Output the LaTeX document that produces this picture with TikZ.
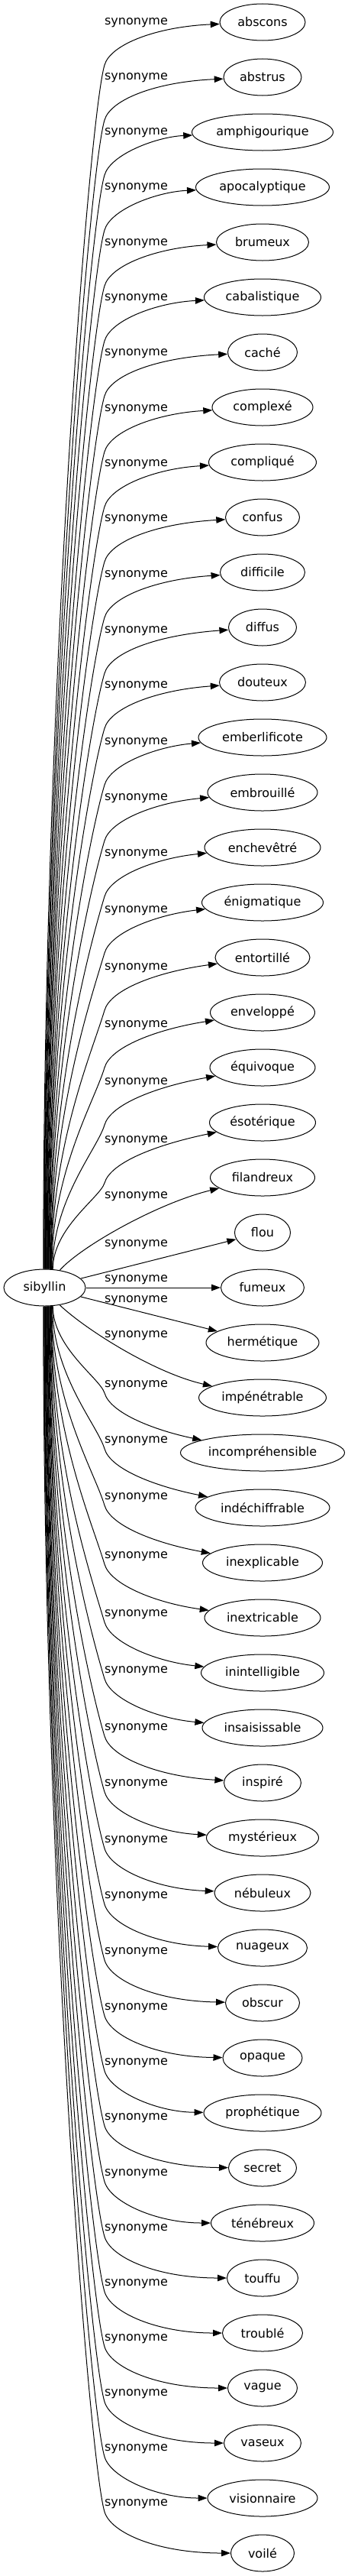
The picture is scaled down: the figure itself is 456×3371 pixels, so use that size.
\documentclass[tikz,border=0pt]{standalone}
\usepackage{fontspec}
\setmainfont{DejaVu Sans}
\usetikzlibrary{arrows.meta,shapes.geometric}
\begin{document}
\begin{tikzpicture}[x=1bp,y=1bp,
  every node/.style={font=\fontsize{16.06}{19}\selectfont},
  word/.style={draw, ellipse, inner sep=0pt, minimum height=48bp, line width=1bp},
  lbl/.style={inner sep=0pt, anchor=center},
  edge/.style={line width=1bp, -{Triangle[length=12bp,width=8.5bp]}}]
\useasboundingbox (0,0) rectangle (456,-3371);
\node[word, minimum width=107bp] (sib) at (58.5,-1685) {sibyllin};
% target nodes and labels: index / width / label offset / text
\foreach \i/\w/\dl/\t in {
 0/112/1/abscons, 1/102/1/abstrus, 2/185/1/amphigourique, 3/175/1/apocalyptique,
 4/121/2/brumeux, 5/153/2/cabalistique, 6/91/2/caché, 7/132/3/complexé,
 8/141/3/compliqué, 9/97/3/confus, 10/111/4/difficile, 11/89/5/diffus,
 12/113/5/douteux, 13/168/7/emberlificote, 14/144/8/embrouillé, 15/152/9/enchevêtré,
 16/159/11/énigmatique, 17/124/14/entortillé, 18/137/17/enveloppé, 19/138/20/équivoque,
 20/139/24/ésotérique, 21/137/25/filandreux, 22/73/16/flou, 23/109/-10/fumeux,
 24/148/-55/hermétique, 25/167/-81/impénétrable, 26/215/-88/incompréhensible,
 27/176/-87/indéchiffrable, 28/157/-85/inexplicable, 29/152/-80/inextricable,
 30/161/-76/inintelligible, 31/158/-74/insaisissable, 32/101/-71/inspiré,
 33/147/-70/mystérieux, 34/126/-68/nébuleux, 35/117/-67/nuageux, 36/97/-66/obscur,
 37/104/-65/opaque, 38/154/-65/prophétique, 39/89/-65/secret, 40/135/-64/ténébreux,
 41/93/-64/touffu, 42/105/-64/troublé, 43/91/-64/vague, 44/101/-64/vaseux,
 45/144/-64/visionnaire, 46/83/-64/voilé} {
  \pgfmathsetmacro\ty{29+72*\i}
  \pgfmathsetmacro\ly{\ty+\dl}
  \node[word, minimum width=\w bp] (n\i) at (344,-\ty) {\t};
  \node[lbl] (l\i) at (178.5,-\ly) {synonyme};
}
% upper edges
\foreach \i/\dl in {0/1,1/1,2/1,3/1,4/2,5/2,6/2,7/3,8/3,9/3,10/4,11/5,12/5,13/7,14/8,15/9,16/11,17/14,18/17,19/20,20/24} {
  \pgfmathsetmacro\ty{29+72*\i}
  \pgfmathsetmacro\vy{\ty+\dl+55}
  \pgfmathsetmacro\dx{57+0.6*\i-58.5}
  \pgfmathtruncatemacro\ang{round(atan2(24*sqrt(1-(\dx/53.5)^2),\dx))}
  \pgfmathsetmacro\len{1661-\vy}
  \pgfmathsetmacro\f{min(1,\len/400)}
  \pgfmathsetmacro\ha{0.48*\len}
  \pgfmathsetmacro\px{137-20*\f}
  \pgfmathsetmacro\py{\vy+67*\f}
  \pgfmathsetmacro\qy{\ty+\dl+5}
  \draw[edge] (sib.\ang) .. controls +(0,\ha) and (\px,-\py) .. (137,-\vy)
     .. controls +(8,27) and (205,-\qy) .. (n\i);
}
% lower edges
\foreach \i/\dl in {26/-88,27/-87,28/-85,29/-80,30/-76,31/-74,32/-71,33/-70,34/-68,35/-67,36/-66,37/-65,38/-65,39/-65,40/-64,41/-64,42/-64,43/-64,44/-64,45/-64,46/-64} {
  \pgfmathsetmacro\ty{29+72*\i}
  \pgfmathsetmacro\vy{\ty+\dl+10}
  \pgfmathsetmacro\dx{57+0.6*(46-\i)-58.5}
  \pgfmathtruncatemacro\ang{round(-atan2(24*sqrt(1-(\dx/53.5)^2),\dx))}
  \pgfmathsetmacro\len{\vy-1709}
  \pgfmathsetmacro\f{min(1,\len/400)}
  \pgfmathsetmacro\ha{0.48*\len}
  \pgfmathsetmacro\px{137-20*\f}
  \pgfmathsetmacro\py{\vy-67*\f}
  \pgfmathsetmacro\dd{max(0,-\dl-64)}
  \pgfmathsetmacro\qy{\ty-1.2*\dd}
  \draw[edge] (sib.\ang) .. controls +(0,-\ha) and (\px,-\py) .. (137,-\vy)
     .. controls +(8,-27) and (205,-\qy) .. (n\i);
}
% middle edges
\draw[edge] (sib.49) .. controls (105,-1632) and (205,-1575) .. (n21);
\draw[edge] (sib) -- (n22);
\draw[edge] (sib) -- (n23);
\draw[edge] (sib) -- (n24);
\draw[edge] (sib.-49) .. controls (110,-1738) and (200,-1796) .. (n25);
\end{tikzpicture}
\end{document}
